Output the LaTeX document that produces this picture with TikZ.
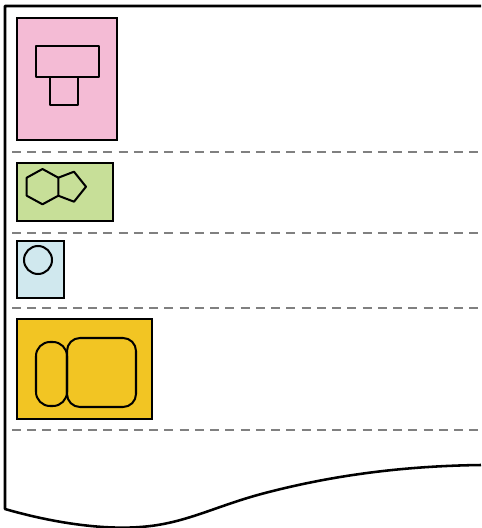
\documentclass[tikz,border=0pt]{standalone}
\usetikzlibrary{calc}
\definecolor{boxpink}{HTML}{F4BBD5}
\definecolor{boxgreen}{HTML}{C7DF98}
\definecolor{boxblue}{HTML}{D0E8EE}
\definecolor{boxyellow}{HTML}{F2C523}
\definecolor{rulegray}{HTML}{808080}
\tikzset{
  panel/.style={draw=black,line width=1.05pt},
  glyph/.style={draw=black,line width=1.15pt,line join=round},
  sepline/.style={draw=rulegray,line width=0.95pt,dash pattern=on 0.18cm off 0.125cm}
}
\begin{document}
\begin{tikzpicture}[x=0.02cm,y=-0.02cm]
  \useasboundingbox (0,0) rectangle (481,528);
  % Hoja: borde superior, izquierdo y corte ondulado
  \draw[line width=1.45pt,line join=round] (481,6) -- (5,6) -- (5,509)
    .. controls (50,522) and (100,530) .. (140,527)
    .. controls (185,524) and (215,506) .. (265,493)
    .. controls (330,476) and (400,466) .. (481,465);
  % Separadores
  \foreach \y in {152,233,308,430}{
    \draw[sepline] (12,\y) -- (481,\y);
  }
  % Bloque rosa
  \fill[boxpink,panel] (17,18) rectangle (117,140);
  \draw[glyph] (36,46) rectangle (99,77);
  \draw[glyph] (50,77) rectangle (78,105);
  % Bloque verde
  \fill[boxgreen,panel] (17,163) rectangle (113,221);
  \draw[glyph] (42.5,169) -- (58.3,177.7) -- (58.3,195.7) -- (42.5,204.3)
    -- (26.7,195.7) -- (26.7,177.7) -- cycle;
  \draw[glyph] (58.3,177.7) -- (74,171.7) -- (86,186.7) -- (74,201.7) -- (58.3,195.7);
  % Bloque azul
  \fill[boxblue,panel] (17,241) rectangle (64,298);
  \draw[glyph] (38,260) circle (14);
  % Bloque amarillo
  \fill[boxyellow,panel] (17,319) rectangle (152,419);
  \draw[glyph,rounded corners=0.28cm] (36,342) rectangle (67,406);
  \draw[glyph,rounded corners=0.26cm] (67,338) rectangle (136,407);
\end{tikzpicture}
\end{document}
